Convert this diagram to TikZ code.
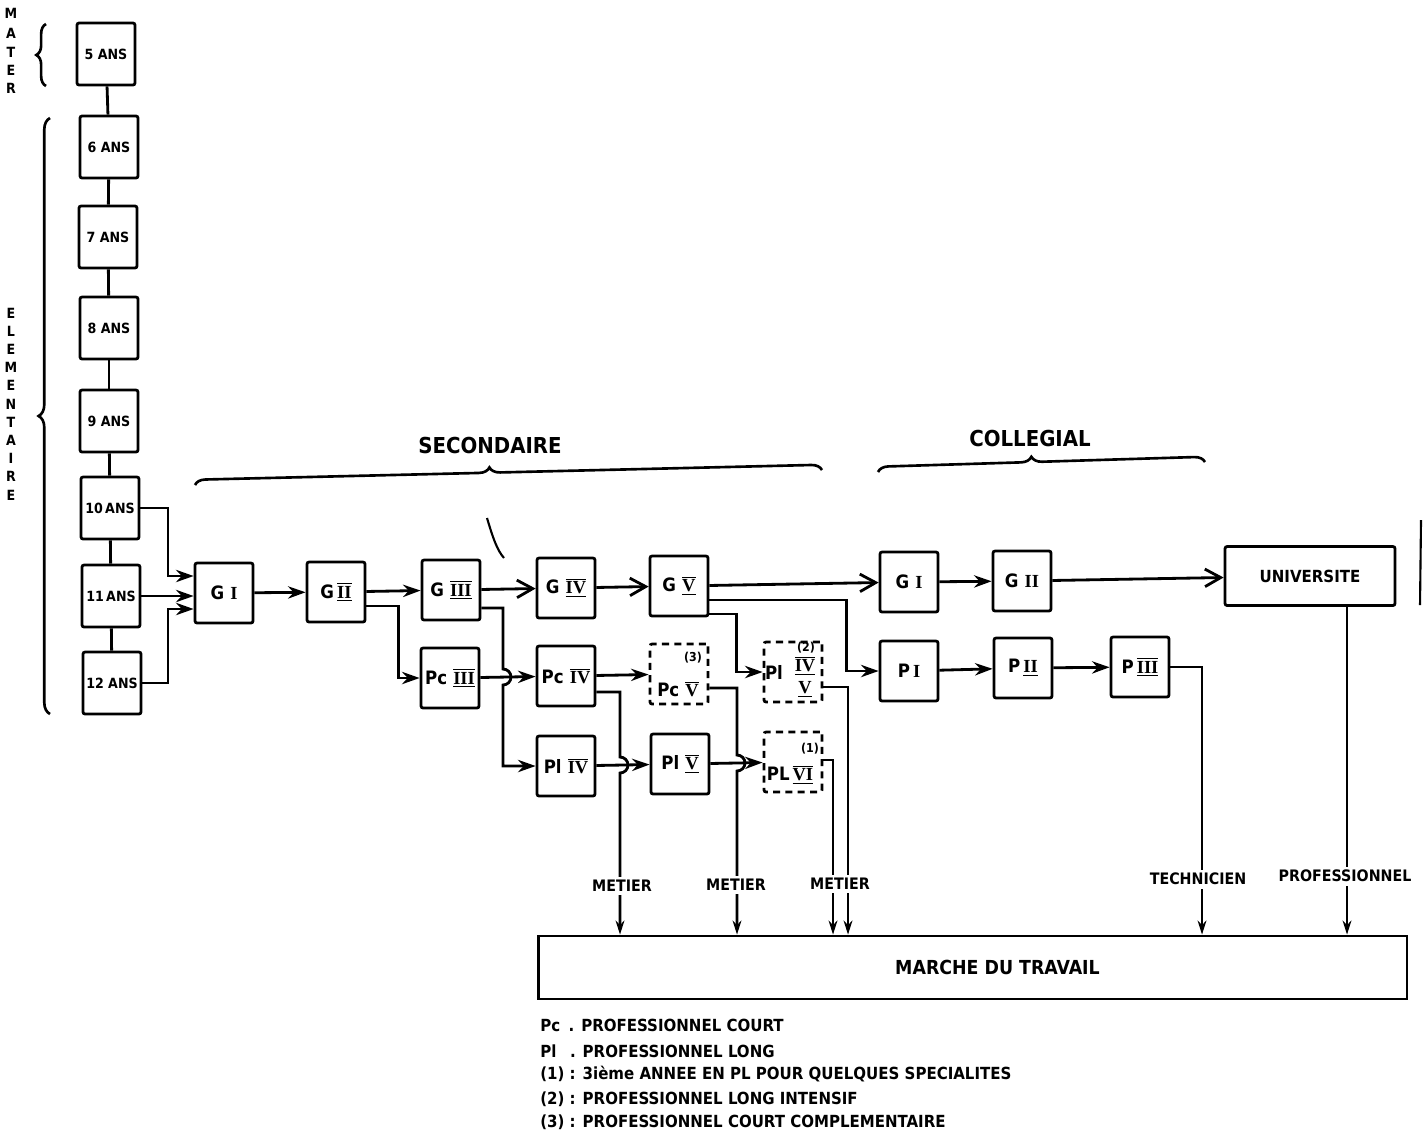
\documentclass[tikz,border=0pt]{standalone}
\usepackage{fontspec}
\setmainfont{DejaVu Sans Condensed}
\newfontfamily\rnfont{Liberation Serif}
\usetikzlibrary{arrows.meta,calc,decorations.pathreplacing}
\newcommand\rnb[1]{\ensuremath{\overline{\underline{\hbox{\rnfont\bfseries #1}}}}}
\newcommand\rnt[1]{\ensuremath{\overline{\hbox{\rnfont\bfseries #1}}}}
\newcommand\rnu[1]{\ensuremath{\underline{\hbox{\rnfont\bfseries #1}}}}
\newcommand\rnp[1]{{\rnfont\bfseries #1}}
\begin{document}
\begin{tikzpicture}[x=0.02cm,y=0.02cm,
  con/.style={line width=1.6pt},
  arr/.style={con,-{Stealth[length=10pt,width=7pt]}},
  oarr/.style={con,-{Straight Barb[length=9pt,width=10pt]}},
  darr/.style={con,-{Stealth[length=8pt,width=5pt]}},
  box/.style={draw,line width=1.6pt,rounded corners=1.2pt,minimum width=1.16cm,minimum height=1.2cm,inner sep=0pt,font=\bfseries\fontsize{10.5}{12}\selectfont},
  dbox/.style={box,dash pattern=on 4pt off 3pt},
  agebox/.style={box,minimum height=1.24cm,font=\bfseries\fontsize{8}{9}\selectfont},
  lab/.style={font=\bfseries\fontsize{9}{10}\selectfont,fill=white,inner sep=2pt},
  ttl/.style={font=\bfseries\fontsize{12.5}{14}\selectfont},
  side/.style={font=\bfseries\fontsize{8}{9}\selectfont,inner sep=0pt},
  note/.style={font=\bfseries\fontsize{9.5}{11}\selectfont,anchor=west,inner sep=0pt},
  small/.style={font=\bfseries\fontsize{7}{8}\selectfont,inner sep=0pt},
  inbox/.style={font=\bfseries\fontsize{10.5}{12}\selectfont,inner sep=0pt},
  brc/.style={line width=1.5pt,decorate,decoration={brace,amplitude=#1}},
  brc/.default=6pt,
]
\useasboundingbox (0,0) rectangle (1425,-1137);

% ---- side labels and braces
\foreach \l/\y in {M/13,A/33,T/52,E/70,R/88}
  \node[side] (mat\y) at (11,-\y) {\l};
\foreach \l [count=\i from 0] in {E,L,E,M,E,N,T,A,I,R,E}
  \node[side] (el\i) at (11,{-313-18.2*\i}) {\l};
\draw[brc=5.5pt] (46,-86) -- (46,-24);
\draw[brc=6.5pt] (50,-714) -- (50,-118);

% ---- age column
\node[agebox] (a5)  at (106,-54)  {5 ANS};
\node[agebox] (a6)  at (109,-147) {6 ANS};
\node[agebox] (a7)  at (108,-237) {7 ANS};
\node[agebox] (a8)  at (109,-328) {8 ANS};
\node[agebox] (a9)  at (109,-421) {9 ANS};
\node[agebox] (a10) at (110,-508) {10\,ANS};
\node[agebox] (a11) at (111,-596) {11\,ANS};
\node[agebox] (a12) at (112,-683) {12 ANS};
\draw[con] (a5) -- (a6);
\draw[con] (a6) -- (a7);
\draw[con] (a7) -- (a8);
\draw[con] (a8) -- (a9);
\draw[con] (a9) -- (a10);
\draw[con] (a10) -- (a11);
\draw[con] (a11) -- (a12);

% ---- titles
\node[ttl] (tsec) at (490,-445) {SECONDAIRE};
\draw[brc=6pt,decoration={aspect=0.47}] (195,-485) -- (822,-470);
\node[ttl] (tcol) at (1030,-438) {COLLEGIAL};
\draw[brc=6pt,decoration={aspect=0.47}] (878,-472) -- (1205,-462);

% ---- secondary
\node[box] (g1)  at (224,-593) {G\,\,\rnp{I}};
\node[box] (g2)  at (336,-592) {G\,\rnb{II}};
\node[box] (g3)  at (451,-590) {G\,\,\rnb{III}};
\node[box] (g4)  at (566,-588) {G\,\,\rnb{IV}};
\node[box] (g5)  at (679,-586) {G\,\,\rnb{V}};
\node[box] (pc3) at (450,-678) {Pc\,\,\rnb{III}};
\node[box] (pc4) at (566,-676) {Pc\,\,\rnt{IV}};
\node[box] (pl4) at (566,-766) {Pl\,\,\rnt{IV}};
\node[dbox] (pc5) at (679,-674) {};
\node[small] (pc5n) at ($(pc5)+(14,16)$) {(3)};
\node[inbox] (pc5t) at ($(pc5)+(-1,-15)$) {Pc\,\,\rnt{V}};
\node[box] (pl5) at (680,-764) {Pl\,\,\rnb{V}};
\node[dbox] (pl45) at (793,-672) {};
\node[small] (pl45n) at ($(pl45)+(13,24)$) {(2)};
\node[inbox] (pl45a) at ($(pl45)+(-19,0)$) {Pl};
\node[inbox] (pl45b) at ($(pl45)+(12,6)$) {\rnb{IV}};
\node[inbox] (pl45c) at ($(pl45)+(12,-17)$) {\rnu{V}};
\node[dbox] (pl6) at (793,-762) {};
\node[small] (pl6n) at ($(pl6)+(17,13)$) {(1)};
\node[inbox] (pl6t) at ($(pl6)+(-3,-13)$) {PL\,\rnb{VI}};

% ---- collegial
\node[box] (cg1) at (909,-582)  {G\,\,\rnp{I}};
\node[box] (cg2) at (1022,-581) {G\,\,\rnp{II}};
\node[box] (p1)  at (909,-671)  {P\,\rnp{I}};
\node[box] (p2)  at (1023,-668) {P\,\rnu{II}};
\node[box] (p3)  at (1140,-667) {P\,\rnb{III}};
\node[box,minimum width=3.4cm,minimum height=1.18cm,font=\bfseries\fontsize{9.5}{11}\selectfont] (univ) at (1310,-576) {UNIVERSITE};

% ---- labour market
\node[draw,line width=1.6pt,minimum width=17.38cm,minimum height=1.26cm,inner sep=0pt,
      font=\bfseries\fontsize{11}{13}\selectfont] (marche) at (972.5,-967.5)
      {\hspace*{1cm}MARCHE DU TRAVAIL};

% ---- connectors: primary to GI
\coordinate (j10) at (168,-576);
\coordinate (j12) at (168,-609);
\draw[arr] (a10.east) -| (j10) -- (j10 -| g1.west);
\draw[arr] (a11.east) -- (a11.east -| g1.west);
\draw[arr] (a12.east) -| (j12) -- (j12 -| g1.west);

% ---- secondary connectors
\draw[arr] (g1) -- (g2);
\draw[arr] (g2) -- (g3);
\draw[arr] ($(g2.east)+(0,-14)$) -- ++(32,0) |- (pc3.west);
\draw[oarr] (g3) -- (g4);
\coordinate (h1) at (503,-669);
\draw[arr] ($(g3.east)+(0,-18)$) -| (h1) arc[start angle=90,end angle=-90,radius=0.16cm] |- (pl4.west);
\draw[arr] (pc3) -- (pc4);
\draw[oarr] (g4) -- (g5);
\draw[arr] (pc4) -- (pc5);
\draw[arr] (pl4) -- (pl5);
\draw[arr] (pl5) -- (pl6);
\coordinate (h2) at (620,-757);
\draw[darr] ($(pc4.east)+(0,-16)$) -| (h2) arc[start angle=90,end angle=-90,radius=0.16cm] -- (h2 |- marche.north);
\coordinate (h3) at (737,-755);
\draw[darr] ($(pc5.east)+(0,-14)$) -| (h3) arc[start angle=90,end angle=-90,radius=0.16cm] -- (h3 |- marche.north);
\draw[oarr] (g5) -- (cg1);
\draw[arr] ($(g5.east)+(0,-14)$) -- ++(137,0) |- (p1.west);
\draw[arr] ($(g5.east)+(0,-28)$) -- ++(27,0) |- (pl45.west);
\coordinate (d3) at (848,0);
\coordinate (d4) at (833,0);
\draw[darr] ($(pl45.east)+(0,-15)$) -| (d3 |- marche.north);
\draw[darr] ($(pl6.east)+(0,2)$) -| (d4 |- marche.north);

% ---- collegial connectors
\draw[arr] (cg1) -- (cg2);
\draw[oarr] (cg2) -- (univ);
\draw[arr] (p1) -- (p2);
\draw[arr] (p2) -- (p3);
\coordinate (d5) at (1202,0);
\draw[darr] (p3.east) -| (d5 |- marche.north);
\coordinate (d6) at (1347,0);
\draw[darr] (d6 |- univ.south) -- (d6 |- marche.north);

% ---- exit labels
\node[lab] (m1) at (622,-886) {METIER};
\node[lab] (m2) at (736,-885) {METIER};
\node[lab] (m3) at (840,-884) {METIER};
\node[lab] (tech) at (1198,-879) {TECHNICIEN};
\node[lab] (prof) at (1345,-876) {PROFESSIONNEL};

% ---- stray marks
\draw[line width=1.2pt] (487,-518) .. controls (493,-538) and (497,-550) .. (504,-558);
\draw[line width=1.2pt] (1421,-520) -- (1420,-605);

% ---- legend
\node[note] (n1) at (540,-1025) {Pc\enspace. PROFESSIONNEL COURT};
\node[note] (n2) at (540,-1051) {Pl\enspace\ . PROFESSIONNEL LONG};
\node[note] (n3) at (540,-1074) {(1) : 3ième ANNEE EN PL POUR QUELQUES SPECIALITES};
\node[note] (n4) at (540,-1099) {(2) : PROFESSIONNEL LONG INTENSIF};
\node[note] (n5) at (540,-1122) {(3) : PROFESSIONNEL COURT COMPLEMENTAIRE};
\end{tikzpicture}
\end{document}
